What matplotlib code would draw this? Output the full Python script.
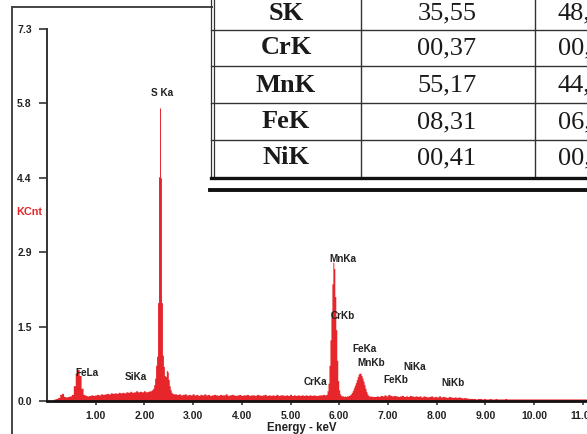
import numpy as np
import matplotlib
matplotlib.use("Agg")
import matplotlib.pyplot as plt

# ---------------- data ----------------
# spectrum segments: (start keV, end keV, counts in KCnt)
seg_low_range = (0.12, 2.16)
seg_low = [0.0, 0.04, 0.05, 0.07, 0.13, 0.15, 0.09, 0.08, 0.09, 0.10,
           0.13, 0.30, 0.55, 0.62, 0.50, 0.25, 0.13, 0.11, 0.10, 0.11,
           0.12, 0.11, 0.12, 0.13, 0.12, 0.14, 0.13, 0.14, 0.15, 0.14,
           0.16, 0.15, 0.16, 0.15, 0.17, 0.16, 0.17, 0.16, 0.18, 0.17,
           0.19, 0.17, 0.18, 0.20, 0.18, 0.19, 0.18, 0.20, 0.18, 0.19,
           0.20, 0.22]
seg_s_range = (2.18, 2.60)
seg_s = [0.25, 0.32, 0.45, 0.70, 0.88, 1.93, 4.40, 5.75, 4.38, 1.93,
         0.90, 0.68, 0.50, 0.48, 0.60, 0.57, 0.42, 0.30, 0.22, 0.17,
         0.15, 0.14]
seg_mid_range = (2.64, 5.72)
seg_mid = [0.14, 0.13, 0.14, 0.12, 0.13, 0.14, 0.12, 0.13, 0.12, 0.14,
           0.12, 0.13, 0.11, 0.13, 0.12, 0.14, 0.12, 0.13, 0.11, 0.12,
           0.13, 0.12, 0.11, 0.13, 0.12, 0.12, 0.14, 0.11, 0.12, 0.13,
           0.12, 0.11, 0.12, 0.13, 0.11, 0.12, 0.12, 0.13, 0.11, 0.12,
           0.12, 0.11, 0.13, 0.12, 0.11, 0.12, 0.13, 0.11, 0.12, 0.11,
           0.12, 0.11, 0.13, 0.11, 0.12, 0.12, 0.11, 0.12, 0.11, 0.13,
           0.11, 0.12, 0.11, 0.12, 0.11, 0.12, 0.11, 0.12, 0.11, 0.12,
           0.11, 0.12, 0.11, 0.11, 0.12, 0.12, 0.13, 0.12]
seg_mn_range = (5.74, 6.06)
seg_mn = [0.13, 0.20, 0.35, 0.70, 1.20, 1.75, 2.30, 2.72, 2.60, 2.05,
          1.40, 0.80, 0.40, 0.22, 0.14, 0.11, 0.10]
seg_fe_range = (6.08, 6.70)
seg_fe = [0.10, 0.09, 0.10, 0.09, 0.10, 0.10, 0.11, 0.12, 0.14, 0.17,
          0.21, 0.26, 0.31, 0.36, 0.42, 0.48, 0.53, 0.55, 0.54, 0.50,
          0.45, 0.39, 0.32, 0.25, 0.19, 0.14, 0.11, 0.10, 0.09, 0.10,
          0.09, 0.09]
seg_high_range = (6.74, 11.10)
seg_high = [0.09, 0.10, 0.09, 0.11, 0.10, 0.12, 0.10, 0.13, 0.11, 0.10,
            0.11, 0.10, 0.09, 0.10, 0.11, 0.09, 0.10, 0.09, 0.11, 0.10,
            0.09, 0.10, 0.09, 0.10, 0.08, 0.10, 0.09, 0.08, 0.09, 0.10,
            0.08, 0.09, 0.08, 0.10, 0.08, 0.09, 0.08, 0.07, 0.09, 0.08,
            0.07, 0.08, 0.07, 0.08, 0.07, 0.06, 0.07, 0.06, 0.05, 0.05,
            0.05, 0.05, 0.04, 0.05, 0.05, 0.04, 0.05, 0.04, 0.04, 0.05,
            0.04, 0.04, 0.05, 0.04, 0.04, 0.04, 0.04, 0.05, 0.04, 0.04,
            0.04, 0.04, 0.04, 0.04, 0.04, 0.04, 0.04, 0.04, 0.04, 0.04,
            0.04, 0.04, 0.04, 0.04, 0.04, 0.04, 0.04, 0.04, 0.04, 0.04,
            0.04, 0.04, 0.04, 0.04, 0.04, 0.04, 0.04, 0.04, 0.04, 0.04,
            0.04, 0.04, 0.04, 0.04, 0.04, 0.04, 0.04, 0.04, 0.04, 0.04]

# peak labels: (text, keV, KCnt)
peak_labels = [("S Ka", 2.36, 6.04), ("FeLa", 0.83, 0.55), ("SiKa", 1.83, 0.47),
               ("MnKa", 6.07, 2.79), ("CrKb", 6.08, 1.67), ("FeKa", 6.51, 1.02),
               ("MnKb", 6.65, 0.75), ("NiKa", 7.56, 0.67), ("FeKb", 7.17, 0.41),
               ("CrKa", 5.52, 0.37), ("NiKb", 8.34, 0.35)]

y_ticks = [0.0, 1.46, 2.92, 4.38, 5.84, 7.3]
y_tick_labels = ["0.0", "1.5", "2.9", "4.4", "5.8", "7.3"]
x_ticks = [1, 2, 3, 4, 5, 6, 7, 8, 9, 10, 11]
x_tick_labels = ["1.00", "2.00", "3.00", "4.00", "5.00", "6.00", "7.00",
                 "8.00", "9.00", "10.00", "11.00"]

table_elements = ["SK", "CrK", "MnK", "FeK", "NiK"]
table_wt = ["35,55", "00,37", "55,17", "08,31", "00,41"]
table_at = ["48,73", "00,31", "44,13", "06,54", "00,31"]

# ---------------- build spectrum ----------------
segments = [(seg_low_range, seg_low), (seg_s_range, seg_s), (seg_mid_range, seg_mid),
            (seg_mn_range, seg_mn), (seg_fe_range, seg_fe), (seg_high_range, seg_high)]
energy = np.concatenate([np.linspace(r[0], r[1], len(v)) for r, v in segments])
counts = np.concatenate([np.array(v) for r, v in segments])

W, H = 587, 434
fig = plt.figure(figsize=(W / 100, H / 100), dpi=100)
fig.patch.set_facecolor("white")

px_per_kev = 48.7
ax_left, ax_right, ax_top, ax_bot = 47, 587, 29, 401
ax = fig.add_axes([ax_left / W, (H - ax_bot) / H, (ax_right - ax_left) / W, (ax_bot - ax_top) / H])
ax.patch.set_alpha(0)
ax.set_xlim(0, (ax_right - ax_left) / px_per_kev)
ax.set_ylim(0, 7.3)

red = "#e6262b"
ax.fill_between(energy, 0, counts, step="mid", color=red, linewidth=0, zorder=1)

for s in ["top", "right"]:
    ax.spines[s].set_visible(False)
ax.spines["left"].set_color("#333333")
ax.spines["left"].set_linewidth(1.4)
ax.spines["bottom"].set_color("#111111")
ax.spines["bottom"].set_linewidth(2.0)

bold = dict(fontweight="bold", family="Liberation Sans")
ax.set_yticks(y_ticks)
ax.set_yticklabels(y_tick_labels, fontsize=7.5, color="#222222", **bold)
ax.set_xticks(x_ticks)
ax.set_xticklabels(x_tick_labels, fontsize=7.5, color="#222222", **bold)
ax.tick_params(axis="y", direction="out", length=6, width=1.2, pad=5, colors="#333333", labelcolor="#222222")
ax.tick_params(axis="x", direction="out", length=3, width=1.2, pad=4, colors="#333333", labelcolor="#222222")

for txt, x, y in peak_labels:
    ax.text(x, y, txt, ha="center", va="center", fontsize=7.2, color="#222222", **bold)

# overlay axis in pixel coordinates
ov = fig.add_axes([0, 0, 1, 1])
ov.set_xlim(0, W)
ov.set_ylim(H, 0)
ov.axis("off")
ov.patch.set_alpha(0)

ov.text(29.5, 212, "KCnt", ha="center", va="center", fontsize=7.8, color=red, **bold)
ov.text(302, 428, "Energy - keV", ha="center", va="center", fontsize=8.3, color="#222222", **bold)

# outer frame of spectrum panel
frame_c = "#444444"
ov.plot([12, 12], [7, H + 2], color=frame_c, lw=1.4)
ov.plot([12, 212], [7, 7], color=frame_c, lw=1.4)

# table
grid_c = "#333333"
ov.add_patch(plt.Rectangle((211, -5), 400, 196, facecolor="white", edgecolor="none", zorder=0.5))
row_lines = [30, 66, 103, 140]
for y in row_lines:
    ov.plot([211, W + 2], [y, y], color=grid_c, lw=1.0)
for x in [361, 535]:
    ov.plot([x, x], [-2, 177], color=grid_c, lw=1.0)
ov.plot([211, 211], [-2, 178], color=grid_c, lw=0.9)
ov.plot([213.5, 213.5], [-2, 177], color=grid_c, lw=0.9)
ov.plot([211, W + 2], [177.5, 177.5], color="#111111", lw=2.4)
ov.plot([210, W + 2], [190, 190], color="#111111", lw=2.8)

row_centers = [13, 48, 85, 122, 158]
serif = "Liberation Serif"
for yc, el, wt, at in zip(row_centers, table_elements, table_wt, table_at):
    ov.text(286, yc, el, ha="center", va="center", fontsize=19, fontweight="bold", family=serif, color="#1a1a1a")
    ov.text(447, yc, wt, ha="center", va="center", fontsize=19, family=serif, color="#1a1a1a")
    ov.text(558, yc, at, ha="left", va="center", fontsize=19, family=serif, color="#1a1a1a")

fig.savefig("out.png", dpi=100, facecolor="white")
